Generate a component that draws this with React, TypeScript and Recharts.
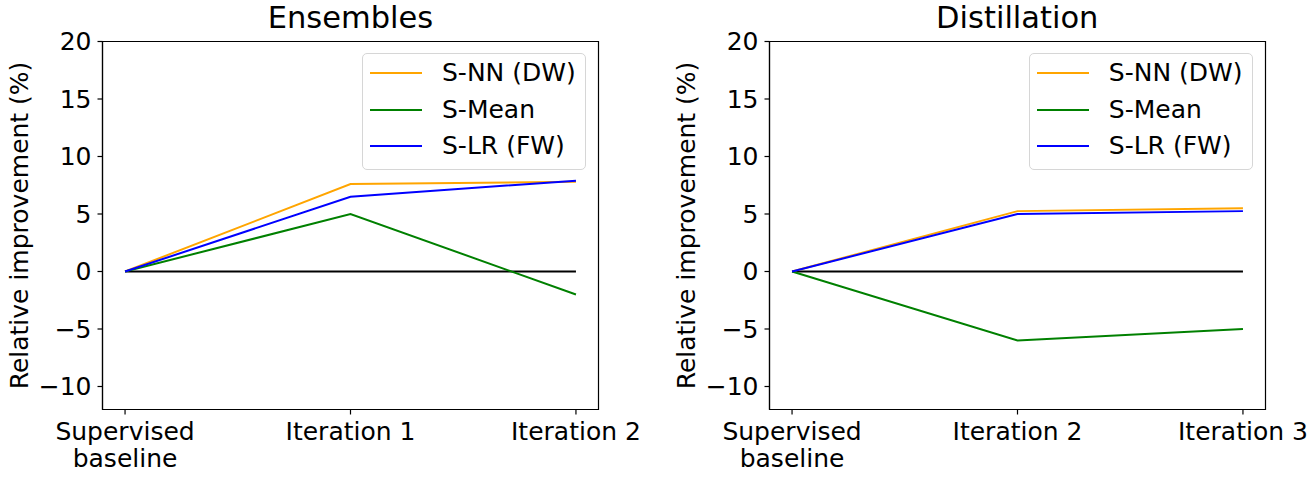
import React from 'react'
import {
  LineChart,
  Line,
  XAxis,
  YAxis,
  Legend,
  ReferenceArea,
} from 'recharts'

const ensembleSteps = ['Supervised\nbaseline', 'Iteration 1', 'Iteration 2']
const distillSteps = ['Supervised\nbaseline', 'Iteration 2', 'Iteration 3']

const seriesNames = ['S-NN (DW)', 'S-Mean', 'S-LR (FW)']
const seriesColors = ['#ffa500', '#008000', '#0000ff']

// Ensembles panel
const ensSNN = [0, 7.6, 7.8]
const ensSMean = [0, 5.0, -2.0]
const ensSLR = [0, 6.5, 7.9]

// Distillation panel
const disSNN = [0, 5.25, 5.5]
const disSMean = [0, -6.0, -5.0]
const disSLR = [0, 5.0, 5.25]

const zeroLine = [0, 0, 0]
const yTicks = [-10, -5, 0, 5, 10, 15, 20]

const FONT = '"DejaVu Sans", sans-serif'
const FS = 25
const W = 657
const H = 482

function buildRows(steps: string[], snn: number[], mean: number[], lr: number[]) {
  return steps.map((s, i) => ({
    x: i,
    label: s,
    s0: snn[i],
    s1: mean[i],
    s2: lr[i],
    zero: zeroLine[i],
  }))
}

function XTick(props: any) {
  const { x, y, payload, steps } = props
  const lines = String(steps[payload.value] ?? '').split('\n')
  return (
    <text x={x} y={y} textAnchor="middle" fontSize={FS} fontFamily={FONT} fill="#000">
      {lines.map((l: string, i: number) => (
        <tspan key={i} x={x} dy={i === 0 ? 23.5 : 26.7}>
          {l}
        </tspan>
      ))}
    </text>
  )
}

function LegendBox() {
  return (
    <div
      style={{
        border: '1.5px solid #d6d6d6',
        borderRadius: 5,
        background: 'rgba(255,255,255,0.8)',
        width: 224,
        height: 117,
        boxSizing: 'border-box',
        padding: '1px 0 0 7px',
        fontFamily: FONT,
        fontSize: FS,
        lineHeight: '30px',
      }}
    >
      {seriesNames.map((n, i) => (
        <div key={n} style={{ display: 'flex', alignItems: 'center', height: 36.5 }}>
          <div style={{ width: 52, height: 2, background: seriesColors[i], marginRight: 20, flex: 'none' }} />
          <span style={{ whiteSpace: 'nowrap' }}>{n}</span>
        </div>
      ))}
    </div>
  )
}

function Panel({ title, steps, rows, left }: { title: string; steps: string[]; rows: any[]; left: number }) {
  return (
    <div style={{ position: 'absolute', left, top: 0, width: W, height: H }}>
      <div
        style={{
          position: 'absolute',
          left: 102.5,
          width: 496,
          top: 0,
          textAlign: 'center',
          fontFamily: FONT,
          fontSize: 30.5,
          lineHeight: '36px',
          whiteSpace: 'nowrap',
        }}
      >
        {title}
      </div>
      <LineChart
        width={W}
        height={H}
        data={rows}
        margin={{ top: 41.5, right: 58.5, left: 0, bottom: 0 }}
      >
        <XAxis
          dataKey="x"
          type="number"
          domain={[-0.1, 2.1]}
          ticks={[0, 1, 2]}
          allowDataOverflow
          height={72.5}
          tick={<XTick steps={steps} />}
          tickSize={5}
          axisLine={{ stroke: '#000', strokeWidth: 1.2 }}
          tickLine={{ stroke: '#000', strokeWidth: 1.2 }}
        />
        <YAxis
          type="number"
          domain={[-12, 20]}
          ticks={yTicks}
          allowDataOverflow
          width={102.5}
          tickSize={5}
          tickMargin={6}
          tick={{ fontSize: FS, fontFamily: FONT, fill: '#000' }}
          tickFormatter={(v: number) => (v < 0 ? `\u2212${Math.abs(v)}` : String(v))}
          axisLine={{ stroke: '#000', strokeWidth: 1.2 }}
          tickLine={{ stroke: '#000', strokeWidth: 1.2 }}
          label={{
            value: 'Relative improvement (%)',
            angle: -90,
            position: 'insideLeft',
            dx: 14,
            style: { textAnchor: 'middle', fontSize: FS, fontFamily: FONT, fill: '#000' },
          }}
        />
        <ReferenceArea
          x1={-0.1}
          x2={2.1}
          y1={-12}
          y2={20}
          fill="none"
          stroke="#000"
          strokeWidth={1.2}
          ifOverflow="visible"
        />
        <Line dataKey="zero" stroke="#000" strokeWidth={2} dot={false} isAnimationActive={false} />
        {seriesNames.map((n, i) => (
          <Line
            key={n}
            dataKey={`s${i}`}
            name={n}
            stroke={seriesColors[i]}
            strokeWidth={2}
            dot={false}
            isAnimationActive={false}
          />
        ))}
        <Legend
          verticalAlign="middle"
          align="center"
          content={() => <LegendBox />}
          wrapperStyle={{ position: 'absolute', left: 362, top: 53, width: 224, height: 117 }}
        />
      </LineChart>
    </div>
  )
}

export default function App() {
  const ensRows = buildRows(ensembleSteps, ensSNN, ensSMean, ensSLR)
  const disRows = buildRows(distillSteps, disSNN, disSMean, disSLR)
  return (
    <div style={{ position: 'absolute', left: 0, top: 0, width: 1314, height: 482, background: '#fff' }}>
      <Panel title="Ensembles" steps={ensembleSteps} rows={ensRows} left={0} />
      <Panel title="Distillation" steps={distillSteps} rows={disRows} left={666.8} />
    </div>
  )
}
